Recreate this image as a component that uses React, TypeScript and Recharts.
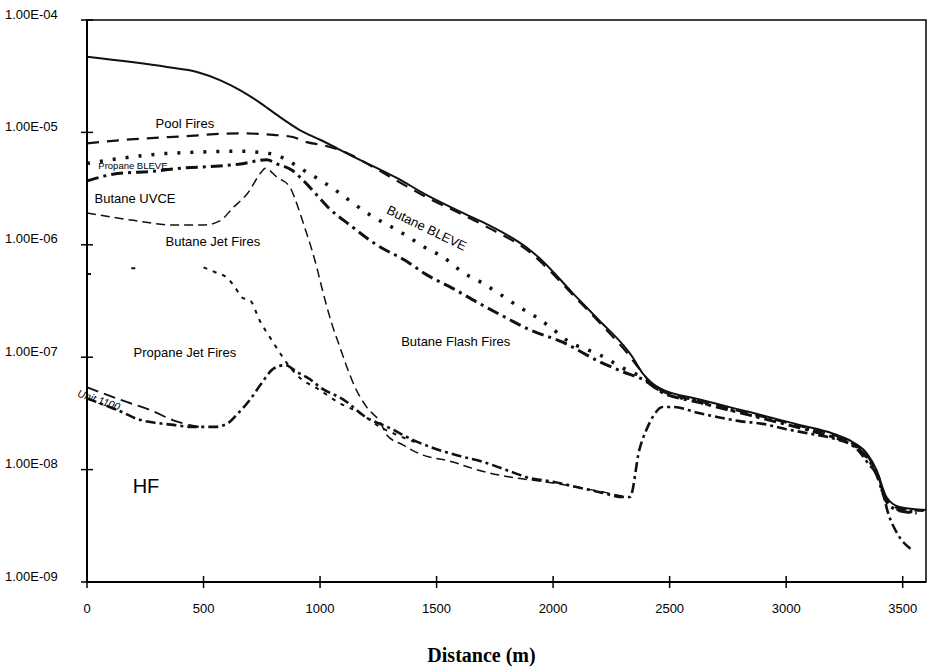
import React from 'react';
import { LineChart, Line, XAxis, YAxis, ReferenceArea, ReferenceDot } from 'recharts';

type Pt = [number, number | null];

const distanceTicks = [0, 500, 1000, 1500, 2000, 2500, 3000, 3500];
const riskTicks = [1e-9, 1e-8, 1e-7, 1e-6, 1e-5, 1e-4];

// [distance (m), frequency]
const totalRisk: Pt[] = [
  [0, 4.7e-5], [343, 3.82e-5], [472, 3.45e-5], [570, 2.92e-5], [656, 2.38e-5], [740, 1.85e-5],
  [815, 1.43e-5], [913, 1.05e-5], [1000, 8.6e-6], [1149, 6.0e-6], [1329, 3.93e-6], [1458, 2.77e-6],
  [1642, 1.8e-6], [1715, 1.53e-6], [1900, 9.0e-7], [1942, 7.6e-7], [2084, 3.72e-7], [2200, 2.1e-7],
  [2298, 1.3e-7], [2341, 1.0e-7], [2384, 7.2e-8], [2457, 5.3e-8], [2629, 4.2e-8], [2843, 3.25e-8],
  [3057, 2.5e-8], [3199, 2.1e-8], [3285, 1.76e-8], [3345, 1.4e-8], [3388, 9.9e-9], [3430, 5.7e-9],
  [3486, 4.65e-9], [3600, 4.37e-9],
];

const poolFires: Pt[] = [
  [0, 8.0e-6], [200, 8.7e-6], [400, 9.2e-6], [650, 9.8e-6], [800, 9.5e-6], [883, 9.1e-6],
  [943, 8.2e-6], [1012, 7.7e-6], [1085, 6.97e-6], [1141, 6.2e-6], [1200, 5.3e-6], [1450, 2.7e-6],
  [1700, 1.5e-6], [1900, 8.6e-7], [2084, 3.6e-7], [2298, 1.22e-7], [2457, 5.1e-8], [2629, 4.05e-8],
  [2843, 3.15e-8], [3057, 2.45e-8], [3199, 2.05e-8], [3285, 1.7e-8], [3345, 1.35e-8], [3388, 9.5e-9],
  [3430, 5.5e-9], [3486, 4.5e-9], [3590, 4.3e-9],
];

const propaneBleve: Pt[] = [
  [0, 5.3e-6], [150, 5.9e-6], [300, 6.4e-6], [500, 6.7e-6], [650, 6.8e-6], [800, 6.4e-6],
  [850, 5.8e-6], [930, 4.6e-6], [1000, 3.77e-6], [1072, 3.0e-6], [1140, 2.36e-6], [1222, 1.8e-6],
  [1299, 1.47e-6], [1372, 1.2e-6], [1449, 9.5e-7], [1527, 7.8e-7], [1612, 5.7e-7], [1694, 4.6e-7],
  [1784, 3.5e-7], [1848, 2.85e-7], [1934, 2.23e-7], [2015, 1.67e-7], [2058, 1.42e-7], [2200, 1.05e-7],
  [2300, 8.0e-8], [2400, 6.3e-8], [2457, 5.1e-8], [2629, 4.0e-8], [2843, 3.1e-8], [3057, 2.4e-8],
  [3199, 2.0e-8], [3285, 1.7e-8], [3345, 1.3e-8], [3388, 9.4e-9], [3430, 5.3e-9], [3486, 4.4e-9],
  [3580, 4.2e-9],
];

const butaneBleve: Pt[] = [
  [0, 3.7e-6], [130, 4.3e-6], [280, 4.5e-6], [400, 4.8e-6], [550, 5.0e-6], [650, 5.2e-6],
  [770, 5.7e-6], [820, 5.2e-6], [880, 4.6e-6], [930, 3.7e-6], [986, 2.77e-6], [1033, 2.17e-6],
  [1128, 1.5e-6], [1244, 9.95e-7], [1368, 7.2e-7], [1458, 5.4e-7], [1569, 4.1e-7], [1672, 3.1e-7],
  [1801, 2.23e-7], [1900, 1.75e-7], [2041, 1.36e-7], [2200, 9.1e-8], [2300, 7.4e-8], [2400, 6.1e-8],
  [2457, 5.0e-8], [2629, 3.95e-8], [2843, 3.05e-8], [3057, 2.35e-8], [3199, 1.95e-8], [3285, 1.65e-8],
  [3345, 1.3e-8], [3388, 9.0e-9], [3430, 5.2e-9], [3486, 4.3e-9], [3560, 4.1e-9],
];

const butaneJetFires: Pt[] = [
  [0, 1.92e-6], [100, 1.77e-6], [200, 1.65e-6], [370, 1.5e-6], [500, 1.5e-6], [570, 1.63e-6],
  [625, 2.12e-6], [690, 2.89e-6], [745, 4.35e-6], [765, 4.8e-6], [815, 4.0e-6], [870, 3.27e-6],
  [905, 2.17e-6], [935, 1.41e-6], [965, 9.0e-7], [986, 6.3e-7], [1007, 4.2e-7], [1050, 2.0e-7],
  [1085, 1.23e-7], [1115, 8.2e-8], [1150, 5.4e-8], [1200, 3.6e-8], [1260, 2.6e-8], [1286, 2.03e-8],
  [1355, 1.66e-8], [1428, 1.38e-8], [1570, 1.17e-8], [1651, 1.03e-8], [1728, 9.3e-9], [1814, 8.6e-9],
  [2000, 7.6e-9], [2200, 6.4e-9], [2300, 5.8e-9],
];

const propaneJetFires: Pt[] = [
  [0, 5.5e-7], [40, 5.5e-7], [60, null], [190, 6.2e-7], [230, 6.2e-7], [260, null],
  [500, 6.3e-7], [550, 5.7e-7], [600, 5.1e-7], [635, 4.2e-7], [665, 3.4e-7], [700, 3.2e-7],
  [742, 2.1e-7], [785, 1.5e-7], [828, 1.09e-7], [870, 8.2e-8], [915, 6.5e-8], [986, 5.3e-8],
  [1085, 3.9e-8], [1170, 3.2e-8], [1256, 2.4e-8], [1329, 2.04e-8], [1415, 1.73e-8],
];

const hfUnit: Pt[] = [
  [0, 4.3e-8], [150, 3.25e-8], [220, 2.8e-8], [300, 2.6e-8], [370, 2.5e-8], [450, 2.4e-8],
  [550, 2.4e-8], [600, 2.55e-8], [650, 3.2e-8], [700, 4.2e-8], [750, 5.9e-8], [800, 7.9e-8],
  [850, 8.5e-8], [900, 7.4e-8], [960, 6.3e-8], [1000, 5.4e-8], [1100, 4.2e-8], [1200, 2.9e-8],
  [1300, 2.34e-8], [1400, 1.83e-8], [1500, 1.52e-8], [1600, 1.32e-8], [1700, 1.17e-8], [1800, 9.9e-9],
  [1900, 8.4e-9], [2000, 7.8e-9], [2100, 7.0e-9], [2200, 6.3e-9], [2300, 5.7e-9], [2330, 5.7e-9],
  [2370, 1.5e-8], [2400, 2.25e-8], [2430, 3.0e-8], [2470, 3.6e-8], [2520, 3.6e-8], [2620, 3.2e-8],
  [2700, 2.95e-8], [2800, 2.7e-8], [2900, 2.55e-8], [3000, 2.29e-8], [3100, 2.09e-8], [3200, 1.9e-8],
  [3300, 1.55e-8], [3350, 1.15e-8], [3400, 8.1e-9], [3440, 3.95e-9], [3480, 2.63e-9], [3540, 1.93e-9],
];

const unit1100: Pt[] = [
  [0, 5.4e-8], [170, 4.0e-8], [270, 3.4e-8], [380, 2.7e-8], [480, 2.4e-8],
];

const annotations = [
  { text: 'Pool Fires', d: 420, p: 1.21e-5, size: 13, angle: 0 },
  { text: 'Propane BLEVE', d: 197, p: 5.1e-6, size: 9.5, angle: 0 },
  { text: 'Butane UVCE', d: 206, p: 2.61e-6, size: 13, angle: 0 },
  { text: 'Butane Jet Fires', d: 540, p: 1.08e-6, size: 13, angle: 0 },
  { text: 'Butane BLEVE', d: 1458, p: 1.41e-6, size: 13, angle: 26 },
  { text: 'Propane Jet Fires', d: 420, p: 1.11e-7, size: 13, angle: 0 },
  { text: 'Butane Flash Fires', d: 1582, p: 1.39e-7, size: 13, angle: 0 },
  { text: 'Unit 1100', d: 51, p: 4.16e-8, size: 10.5, angle: 19, italic: true },
  { text: 'HF', d: 253, p: 7.15e-9, size: 20, angle: 0 },
];

const series = [
  { key: 'total', rows: totalRisk, width: 2, dash: undefined },
  { key: 'pool', rows: poolFires, width: 2.2, dash: '12 8' },
  { key: 'propBleve', rows: propaneBleve, width: 3.5, dash: '3 10' },
  { key: 'butBleve', rows: butaneBleve, width: 3, dash: '12 5 3 5' },
  { key: 'butJet', rows: butaneJetFires, width: 1.5, dash: '9 5' },
  { key: 'propJet', rows: propaneJetFires, width: 2, dash: '4 6' },
  { key: 'hf', rows: hfUnit, width: 2.6, dash: '10 4 3 4' },
  { key: 'unit1100', rows: unit1100, width: 1.8, dash: '12 6' },
];

const toPts = (rows: Pt[]) => rows.map(([d, p]) => ({ d, p }));

const fmtRisk = (v: number) => {
  const e = Math.round(Math.log10(v));
  const m = v / Math.pow(10, e);
  return `${m.toFixed(2)}E-${String(Math.abs(e)).padStart(2, '0')}`;
};

const FONT = '"Liberation Sans", Arial, sans-serif';

const XTick = ({ x, y, payload }: any) => (
  <g>
    <line x1={x} x2={x} y1={y - 6} y2={y + 6} stroke="#000" strokeWidth={1.5} />
    <text x={x} y={y + 31} textAnchor="middle" fontSize={13} fontFamily={FONT} fill="#000">
      {payload.value}
    </text>
  </g>
);

const YTick = ({ x, y, payload }: any) => (
  <g>
    <line x1={x - 6} x2={x + 6} y1={y} y2={y} stroke="#000" strokeWidth={1.5} />
    <text x={x - 82} y={y - 1.5} textAnchor="start" fontSize={13} fontFamily={FONT} fill="#000">
      {fmtRisk(payload.value)}
    </text>
  </g>
);

export default function App() {
  return (
    <div style={{ position: 'absolute', left: 0, top: 0, width: 930, height: 669, background: '#fff' }}>
      <LineChart width={930} height={669} margin={{ top: 20, right: 4, left: 0, bottom: 0 }}>
        <XAxis
          dataKey="d"
          type="number"
          domain={[0, 3600]}
          ticks={distanceTicks}
          interval={0}
          allowDataOverflow
          height={87}
          axisLine={{ stroke: '#000', strokeWidth: 2 }}
          tickLine={false}
          tickSize={0}
          tickMargin={0}
          tick={<XTick />}
          label={{
            value: 'Distance (m)',
            position: 'insideBottom',
            offset: 7,
            dx: -25,
            fontSize: 20,
            fontWeight: 'bold',
            fontFamily: '"Liberation Serif", "Times New Roman", serif',
            fill: '#000',
          }}
        />
        <YAxis
          dataKey="p"
          type="number"
          scale="log"
          domain={[1e-9, 1e-4]}
          ticks={riskTicks}
          interval={0}
          allowDataOverflow
          width={87}
          axisLine={{ stroke: '#000', strokeWidth: 2 }}
          tickLine={false}
          tickSize={0}
          tickMargin={0}
          tick={<YTick />}
        />
        <ReferenceArea
          x1={0}
          x2={3600}
          y1={1e-9}
          y2={1e-4}
          fill="none"
          stroke="#000"
          strokeWidth={1.5}
          ifOverflow="visible"
        />
        {series.map((s) => (
          <Line
            key={s.key}
            data={toPts(s.rows)}
            dataKey="p"
            type="monotone"
            stroke="#111"
            strokeWidth={s.width}
            strokeDasharray={s.dash}
            dot={false}
            activeDot={false}
            isAnimationActive={false}
          />
        ))}
        {annotations.map((a) => (
          <ReferenceDot
            key={a.text}
            x={a.d}
            y={a.p}
            r={1}
            ifOverflow="visible"
            shape={(props: any) => (
              <text
                x={props.cx}
                y={props.cy}
                dy="0.35em"
                textAnchor="middle"
                fontSize={a.size}
                fontStyle={a.italic ? 'italic' : 'normal'}
                fontFamily={FONT}
                fill="#000"
                transform={a.angle ? `rotate(${a.angle} ${props.cx} ${props.cy})` : undefined}
              >
                {a.text}
              </text>
            )}
          />
        ))}
      </LineChart>
    </div>
  );
}
